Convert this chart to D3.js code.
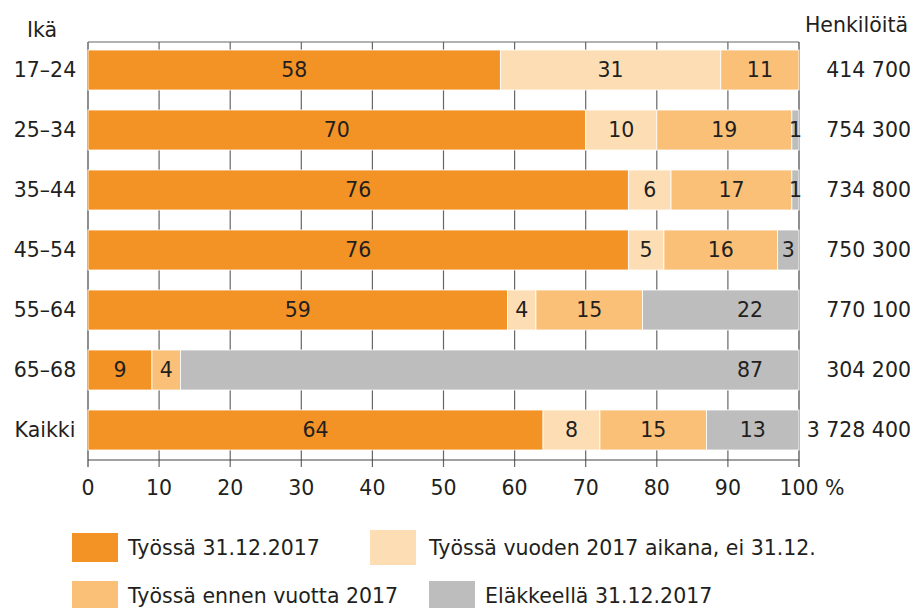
<!DOCTYPE html>
<html>
<head>
<meta charset="utf-8">
<script src="https://cdn.jsdelivr.net/npm/d3@7"></script>
<style>
  body { margin: 0; background: #fff; }
  text { font-family: "DejaVu Sans", sans-serif; fill: #231f20; font-size: 20.5px; }
</style>
</head>
<body>
<div id="chart"></div>
<script>
// data
const ages = ['17–24', '25–34', '35–44', '45–54', '55–64', '65–68', 'Kaikki']
const tyossa = [58, 70, 76, 76, 59, 9, 64]
const vuodenAikana = [31, 10, 6, 5, 4, 0, 8]
const ennenVuotta = [11, 19, 17, 16, 15, 4, 15]
const elakkeella = [0, 1, 1, 3, 22, 87, 13]
const henkiloita = ['414 700', '754 300', '734 800', '750 300', '770 100', '304 200', '3 728 400']
const seriesNames = ['Työssä 31.12.2017', 'Työssä vuoden 2017 aikana, ei 31.12.', 'Työssä ennen vuotta 2017', 'Eläkkeellä 31.12.2017']
const xTicks = [0, 10, 20, 30, 40, 50, 60, 70, 80, 90, 100]

const fullWidth = 916
const fullHeight = 608
const plotLeft = 88, plotRight = 799, plotTop = 42, plotBottom = 460
const colours = ['#f39325', '#fddeb4', '#fbc077', '#bcbdbc']

const svg = d3.select('#chart')
    .append('svg')
    .attr('width', fullWidth)
    .attr('height', fullHeight)

const x = d3.scaleLinear().domain([0, 100]).range([plotLeft, plotRight])
const y = d3.scaleBand().domain(ages).range([plotTop - 2, plotBottom]).padding(0)
const barH = 40

const rows = ages.map((a, i) => ({
    age: a,
    s0: tyossa[i], s1: vuodenAikana[i], s2: ennenVuotta[i], s3: elakkeella[i]
}))
const stacked = d3.stack().keys(['s0', 's1', 's2', 's3'])(rows)

// grid lines behind the bars
svg.append('g')
    .selectAll('line')
    .data(xTicks)
    .enter()
    .append('line')
    .attr('x1', d => x(d)).attr('x2', d => x(d))
    .attr('y1', plotTop).attr('y2', plotBottom + 7)
    .attr('stroke', d => (d === 0 || d === 100) ? '#444' : '#666')
    .attr('stroke-width', 1.2)
svg.append('line')
    .attr('x1', plotLeft).attr('x2', plotRight)
    .attr('y1', plotTop).attr('y2', plotTop)
    .attr('stroke', '#666').attr('stroke-width', 1.2)

// bars
const groups = svg.append('g')
    .selectAll('g')
    .data(stacked)
    .enter()
    .append('g')
    .attr('fill', (d, i) => colours[i])

groups.selectAll('rect')
    .data(d => d.filter(v => v[1] - v[0] > 0))
    .enter()
    .append('rect')
    .attr('x', d => x(d[0]))
    .attr('y', d => y(d.data.age) + (y.bandwidth() - barH) / 2)
    .attr('width', d => x(d[1]) - x(d[0]))
    .attr('height', barH)
    .attr('stroke', '#fff')
    .attr('stroke-width', 0.8)

// value labels
groups.selectAll('text')
    .data(d => d.filter(v => v[1] - v[0] > 0).map(v => Object.assign(v, { key: d.key })))
    .enter()
    .append('text')
    .attr('x', d => {
        const w = d[1] - d[0]
        if (d.key === 's3' && w > 15) return x(100) - 49
        return (x(d[0]) + x(d[1])) / 2
    })
    .attr('y', d => y(d.data.age) + y.bandwidth() / 2)
    .attr('dy', '0.36em')
    .attr('text-anchor', 'middle')
    .text(d => d[1] - d[0])

// bottom axis line
svg.append('line')
    .attr('x1', plotLeft).attr('x2', plotRight)
    .attr('y1', plotBottom).attr('y2', plotBottom)
    .attr('stroke', '#444').attr('stroke-width', 1.2)

// x tick labels
svg.append('g')
    .selectAll('text')
    .data(xTicks)
    .enter()
    .append('text')
    .attr('x', d => x(d))
    .attr('dx', d => d === 100 ? 13 : 0)
    .attr('y', 495)
    .attr('text-anchor', 'middle')
    .text(d => d === 100 ? '100 %' : d)

// row labels
svg.append('text')
    .attr('x', 42).attr('y', 37)
    .attr('text-anchor', 'middle')
    .text('Ikä')
svg.append('g')
    .selectAll('text')
    .data(ages)
    .enter()
    .append('text')
    .attr('x', 45)
    .attr('y', d => y(d) + y.bandwidth() / 2)
    .attr('dy', '0.36em')
    .attr('text-anchor', 'middle')
    .text(d => d)

// persons column
svg.append('text')
    .attr('x', 908).attr('y', 32)
    .attr('text-anchor', 'end')
    .text('Henkilöitä')
svg.append('g')
    .selectAll('text')
    .data(henkiloita)
    .enter()
    .append('text')
    .attr('x', 911)
    .attr('y', (d, i) => y(ages[i]) + y.bandwidth() / 2)
    .attr('dy', '0.36em')
    .attr('text-anchor', 'end')
    .text(d => d)

// legend
const legendPos = [[72, 533, 29], [370, 530, 35], [72, 581, 29], [429, 581, 29]]
const legend = svg.append('g')
    .selectAll('g')
    .data(seriesNames)
    .enter()
    .append('g')
    .attr('transform', (d, i) => `translate(${legendPos[i][0]}, ${legendPos[i][1]})`)
legend.append('rect')
    .attr('x', 0).attr('y', 0)
    .attr('width', 46).attr('height', (d, i) => legendPos[i][2])
    .attr('fill', (d, i) => colours[i])
legend.append('text')
    .attr('x', (d, i) => i === 1 ? 59 : 56)
    .attr('y', (d, i) => i === 1 ? 25 : 22)
    .text(d => d)
</script>
</body>
</html>
